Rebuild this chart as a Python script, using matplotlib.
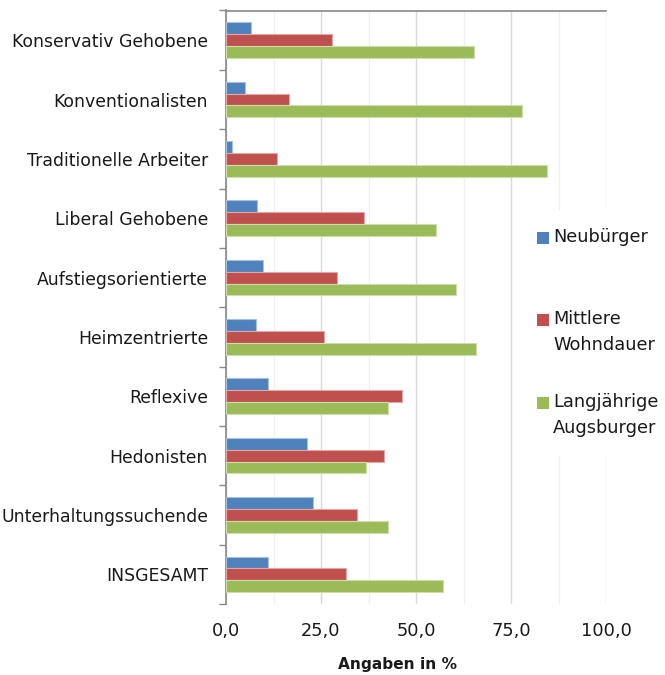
import matplotlib.pyplot as plt
from matplotlib.patches import Rectangle
from matplotlib.ticker import FuncFormatter, MultipleLocator
import numpy as np

plt.rcParams['font.family'] = ['DejaVu Sans']

# categories (top to bottom) and values
categories = ['Konservativ Gehobene', 'Konventionalisten', 'Traditionelle Arbeiter',
              'Liberal Gehobene', 'Aufstiegsorientierte', 'Heimzentrierte',
              'Reflexive', 'Hedonisten', 'Unterhaltungssuchende', 'INSGESAMT']
neubuerger = [6.5, 5.1, 1.6, 8.1, 9.8, 8.0, 11.0, 21.3, 22.9, 11.0]
mittlere = [27.9, 16.7, 13.5, 36.3, 29.2, 25.9, 46.3, 41.6, 34.4, 31.7]
langjaehrige = [65.3, 78.0, 84.6, 55.3, 60.6, 65.9, 42.5, 36.8, 42.5, 57.2]

series_names = ['Neubürger', 'Mittlere\nWohndauer', 'Langjährige\nAugsburger']
series_values = [neubuerger, mittlere, langjaehrige]
colors = ['#4F81BD', '#C0504D', '#9BBB59']
edges = ['#A7C0DE', '#DFA8A6', '#CDDDAC']

fig = plt.figure(figsize=(6.65, 6.75), dpi=100)
ax = fig.add_axes([226 / 665, 1 - 604 / 675, 380 / 665, 593.5 / 675])

y = np.arange(len(categories))
h = 0.2
offsets = [-h, 0, h]
for vals, off, c, ec in zip(series_values, offsets, colors, edges):
    ax.barh(y + off, vals, height=h, color=c, edgecolor=ec, linewidth=0.8, zorder=3)

ax.set_xlim(0, 100)
ax.set_ylim(len(categories) - 0.5, -0.5)

# x axis: labels at the bottom, axis line at the top
ax.xaxis.set_major_locator(MultipleLocator(25))
ax.xaxis.set_minor_locator(MultipleLocator(12.5))
ax.xaxis.set_major_formatter(FuncFormatter(lambda v, p: f'{v:.1f}'.replace('.', ',')))
ax.tick_params(axis='x', which='both', length=0, pad=13, labelsize=12.8, colors='#1A1A1A')
ax.grid(axis='x', which='major', color='#D9D9D9', linewidth=1.0, zorder=0)
ax.grid(axis='x', which='minor', color='#F0F0F0', linewidth=1.0, zorder=0)

# y axis: ticks between categories, labels at category centres
ax.set_yticks(np.arange(len(categories) + 1) - 0.5)
ax.set_yticklabels([])
ax.set_yticks(y, minor=True)
ax.set_yticklabels(categories, minor=True)
ax.tick_params(axis='y', which='major', length=5, width=1, color='#898989', direction='out')
ax.tick_params(axis='y', which='minor', length=0, pad=13, labelsize=12.4, labelcolor='#1A1A1A')

for s in ['right', 'bottom']:
    ax.spines[s].set_visible(False)
for s in ['left', 'top']:
    ax.spines[s].set_color('#898989')
    ax.spines[s].set_linewidth(1.2)

ax.set_xlabel('Angaben in %', fontsize=11.1, fontweight='bold', color='#1A1A1A')
ax.xaxis.set_label_coords((398 - 226) / 380, (604 - 665) / 593.5)
ax.xaxis.label.set_va('center')

# legend drawn by hand so the square sits on the first line of each label
W, H = 665, 675
fig.patches.append(Rectangle((530 / W, 1 - 456 / H), 135 / W, 246 / H,
                             transform=fig.transFigure, facecolor='white',
                             edgecolor='none', zorder=2))
legend_y = [238, 320, 403]
for name, c, ly in zip(series_names, colors, legend_y):
    fig.patches.append(Rectangle((537 / W, 1 - (ly + 6) / H), 12 / W, 12 / H,
                                 transform=fig.transFigure, facecolor=c,
                                 edgecolor='none', zorder=3))
    fig.text(553 / W, 1 - (ly - 10) / H, name, fontsize=12.8, color='#1A1A1A',
             va='top', ha='left', linespacing=1.55, zorder=3)

fig.savefig('out.png', dpi=100)
